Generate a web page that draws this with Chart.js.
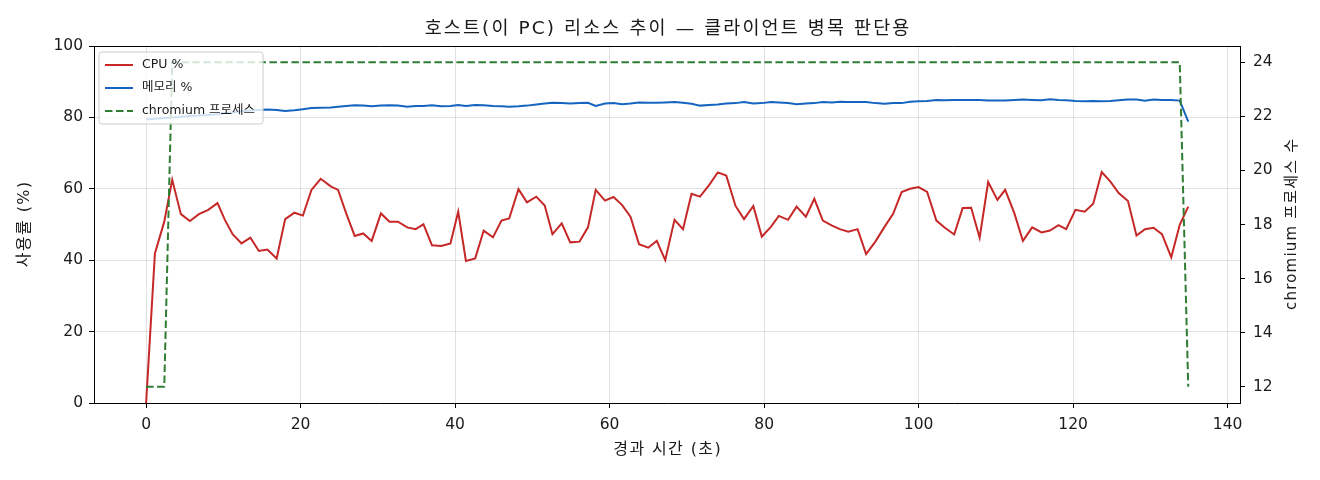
<!DOCTYPE html>
<html>
<head>
<meta charset="utf-8">
<script src="https://cdn.jsdelivr.net/npm/chart.js@4.4.1/dist/chart.umd.min.js"></script>
<style>
html,body{margin:0;padding:0;background:#fff;}
canvas{display:block;}
</style>
</head>
<body>
<canvas id="c" width="1320" height="480"></canvas>
<script>
const times = [
0, 1.14, 2.35, 3.38, 4.5, 5.67, 6.83, 8.04, 9.24, 10.2,
11.2, 12.35, 13.5, 14.6, 15.7, 16.9, 18.0, 19.2, 20.3, 21.4,
22.6, 23.9, 24.85, 25.9, 27.0, 28.1, 29.2, 30.4, 31.5, 32.6,
33.8, 34.9, 35.9, 37.0, 38.2, 39.4, 40.4, 41.4, 42.6, 43.7,
44.9, 46.0, 47.0, 48.2, 49.3, 50.5, 51.6, 52.6, 53.8, 54.9,
56.1, 57.2, 58.2, 59.4, 60.5, 61.6, 62.7, 63.8, 65.0, 66.1,
67.2, 68.4, 69.5, 70.6, 71.7, 72.9, 74.0, 75.1, 76.3, 77.4,
78.6, 79.7, 80.9, 81.9, 83.1, 84.2, 85.4, 86.5, 87.6, 88.8,
89.8, 90.9, 92.1, 93.2, 94.4, 95.6, 96.7, 97.8, 98.9, 100.0,
101.1, 102.3, 103.4, 104.6, 105.7, 106.8, 107.9, 109.0, 110.2, 111.2,
112.4, 113.5, 114.7, 115.9, 117.0, 118.1, 119.1, 120.3, 121.5, 122.6,
123.7, 124.8, 125.9, 127.1, 128.2, 129.3, 130.4, 131.5, 132.7, 133.8,
134.9
];
const cpuPct = [
0, 41.9, 50.8, 62.5, 52.9, 51.0, 52.9, 54.1, 56.0, 51.3,
47.3, 44.7, 46.3, 42.6, 43.0, 40.5, 51.5, 53.3, 52.5, 59.7,
62.8, 60.7, 59.7, 53.1, 46.8, 47.5, 45.4, 53.1, 50.8, 50.8,
49.2, 48.7, 50.1, 44.2, 44.0, 44.7, 53.6, 39.8, 40.5, 48.3,
46.4, 51.1, 51.7, 59.9, 56.2, 57.8, 55.3, 47.3, 50.3, 45.0,
45.2, 49.2, 59.7, 56.7, 57.7, 55.5, 52.2, 44.5, 43.5, 45.4,
40.0, 51.3, 48.7, 58.6, 57.8, 61.1, 64.6, 63.7, 55.2, 51.5,
55.2, 46.6, 49.4, 52.4, 51.3, 55.0, 52.2, 57.2, 51.1, 49.7,
48.7, 48.0, 48.7, 41.7, 45.2, 49.4, 53.0, 59.1, 60.0, 60.5,
59.1, 51.1, 49.1, 47.2, 54.6, 54.7, 46.3, 61.9, 56.9, 59.7,
53.1, 45.4, 49.2, 47.8, 48.3, 49.8, 48.7, 54.1, 53.6, 55.8,
64.7, 62.1, 58.8, 56.6, 46.9, 48.7, 49.1, 47.3, 40.8, 49.9,
55.0
];
const memPct = [
79.4, 79.6, 79.8, 80.0, 80.2, 80.4, 80.5, 80.7, 80.9, 81.2,
81.4, 81.7, 81.9, 82.1, 82.2, 82.1, 81.8, 82.0, 82.3, 82.6,
82.7, 82.8, 83.0, 83.2, 83.4, 83.3, 83.1, 83.3, 83.4, 83.3,
83.0, 83.2, 83.2, 83.4, 83.1, 83.2, 83.5, 83.2, 83.5, 83.4,
83.2, 83.1, 83.0, 83.1, 83.3, 83.6, 83.9, 84.1, 84.0, 83.9,
84.0, 84.1, 83.2, 83.9, 84.0, 83.7, 83.9, 84.2, 84.1, 84.1,
84.2, 84.3, 84.1, 83.8, 83.3, 83.5, 83.6, 83.9, 84.0, 84.3,
83.9, 84.0, 84.3, 84.2, 84.0, 83.7, 83.9, 84.0, 84.3, 84.2,
84.4, 84.3, 84.3, 84.3, 84.0, 83.8, 84.0, 84.0, 84.4, 84.5,
84.6, 84.9, 84.8, 84.9, 84.9, 84.9, 84.9, 84.7, 84.7, 84.7,
84.9, 85.0, 84.9, 84.8, 85.1, 84.9, 84.8, 84.6, 84.5, 84.6,
84.5, 84.6, 84.8, 85.0, 85.0, 84.7, 85.0, 84.9, 84.9, 84.7,
78.8
];
const chromiumProcs = [
12, 12, 12,
24, 24, 24, 24, 24, 24, 24, 24, 24, 24, 24, 24, 24,
24, 24, 24, 24, 24, 24, 24, 24, 24, 24, 24, 24, 24,
24, 24, 24, 24, 24, 24, 24, 24, 24, 24, 24, 24, 24,
24, 24, 24, 24, 24, 24, 24, 24, 24, 24, 24, 24, 24,
24, 24, 24, 24, 24, 24, 24, 24, 24, 24, 24, 24, 24,
24, 24, 24, 24, 24, 24, 24, 24, 24, 24, 24, 24, 24,
24, 24, 24, 24, 24, 24, 24, 24, 24, 24, 24, 24, 24,
24, 24, 24, 24, 24, 24, 24, 24, 24, 24, 24, 24, 24,
24, 24, 24, 24, 24, 24, 24, 24, 24, 24, 24, 24, 24,
12
];
const seriesLabels = ['CPU %', '메모리 %', 'chromium 프로세스'];
const xTickValues = [0, 20, 40, 60, 80, 100, 120, 140];
const yTickValues = [0, 20, 40, 60, 80, 100];
const y1TickValues = [12, 14, 16, 18, 20, 22, 24];
const titleText = '호스트(이 PC) 리소스 추이 — 클라이언트 병목 판단용';
const xTitle = '경과 시간 (초)';
const yTitle = '사용률 (%)';
const y1Title = 'chromium 프로세스 수';

const FONT = "'DejaVu Sans', 'Noto Sans CJK KR', sans-serif";
const TXT = '#1a1a1a';
const GRID = 'rgba(176,176,176,0.38)';

const pts = arr => arr.map((v, i) => ({x: times[i], y: v}));
const setTicks = vals => s => { s.ticks = vals.map(v => ({value: v})); };

function drawText(ctx, text, x, y, size, spacing, rot) {
  ctx.save();
  ctx.translate(x, y);
  if (rot) ctx.rotate(rot);
  ctx.font = size + 'px ' + FONT;
  ctx.letterSpacing = spacing + 'px';
  ctx.fillStyle = TXT;
  ctx.textAlign = 'center';
  ctx.textBaseline = 'middle';
  ctx.fillText(text, spacing / 2, 0);
  ctx.restore();
}

const frameLegendPlugin = {
  id: 'frameLegend',
  afterDraw(chart) {
    const ctx = chart.ctx, a = chart.chartArea;
    ctx.save();
    // top frame
    ctx.strokeStyle = '#000'; ctx.lineWidth = 1;
    ctx.beginPath(); ctx.moveTo(a.left, a.top + 0.5); ctx.lineTo(a.right, a.top + 0.5); ctx.stroke();
    // legend box
    const bx = a.left + 5, by = a.top + 6, bw = 164, bh = 72, r = 3;
    ctx.beginPath();
    ctx.moveTo(bx + r, by); ctx.lineTo(bx + bw - r, by); ctx.quadraticCurveTo(bx + bw, by, bx + bw, by + r);
    ctx.lineTo(bx + bw, by + bh - r); ctx.quadraticCurveTo(bx + bw, by + bh, bx + bw - r, by + bh);
    ctx.lineTo(bx + r, by + bh); ctx.quadraticCurveTo(bx, by + bh, bx, by + bh - r);
    ctx.lineTo(bx, by + r); ctx.quadraticCurveTo(bx, by, bx + r, by);
    ctx.closePath();
    ctx.fillStyle = 'rgba(255,255,255,0.8)'; ctx.fill();
    ctx.strokeStyle = '#cccccc'; ctx.lineWidth = 1; ctx.stroke();
    const rows = [by + 13, by + 36, by + 59];
    chart.data.datasets.forEach((ds, i) => {
      const y = rows[i];
      ctx.beginPath();
      ctx.setLineDash(ds.borderDash || []);
      ctx.strokeStyle = ds.borderColor; ctx.lineWidth = 2;
      ctx.moveTo(bx + 6, y); ctx.lineTo(bx + 34, y); ctx.stroke();
      ctx.setLineDash([]);
      ctx.fillStyle = TXT; ctx.font = '12.5px ' + FONT;
      ctx.textBaseline = 'middle'; ctx.textAlign = 'left';
      ctx.fillText(ds.label, bx + 43, y);
    });
    ctx.restore();
    const cx = (a.left + a.right) / 2, cy = (a.top + a.bottom) / 2;
    drawText(ctx, titleText, cx, 29, 18.5, 2.1, 0);
    drawText(ctx, xTitle, cx, 450, 16, 1.4, 0);
    drawText(ctx, yTitle, 25, cy, 16, 1.4, -Math.PI / 2);
    drawText(ctx, y1Title, 1292, cy, 15, 1.2, -Math.PI / 2);
  }
};

new Chart(document.getElementById('c'), {
  type: 'line',
  data: {
    datasets: [
      {label: seriesLabels[0], data: pts(cpuPct), borderColor: '#c62828', borderWidth: 2, pointRadius: 0, yAxisID: 'y', order: 2},
      {label: seriesLabels[1], data: pts(memPct), borderColor: '#1565c0', borderWidth: 2, pointRadius: 0, yAxisID: 'y', order: 1},
      {label: seriesLabels[2], data: pts(chromiumProcs), borderColor: '#2e7d32', borderWidth: 2, borderDash: [7.5, 3.5], pointRadius: 0, yAxisID: 'y1', order: 0}
    ]
  },
  options: {
    responsive: false,
    animation: false,
    devicePixelRatio: 1,
    layout: {padding: {top: 46, left: 0, right: 0, bottom: 0}},
    plugins: {
      legend: {display: false},
      tooltip: {enabled: false},
      title: {display: false}
    },
    elements: {line: {tension: 0}},
    scales: {
      x: {
        type: 'linear', min: -6.745, max: 141.6,
        afterBuildTicks: setTicks(xTickValues),
        afterFit: s => { s.height = 77; },
        grid: {color: GRID, lineWidth: 1, tickColor: '#000', tickLength: 5, tickWidth: 1},
        border: {color: '#000', width: 1},
        ticks: {color: TXT, font: {family: FONT, size: 15.5}, padding: 8, maxRotation: 0, autoSkip: false}
      },
      y: {
        type: 'linear', position: 'left', min: 0, max: 100,
        afterBuildTicks: setTicks(yTickValues),
        afterFit: s => { s.width = 94; },
        grid: {color: GRID, lineWidth: 1, tickColor: '#000', tickLength: 5, tickWidth: 1},
        border: {color: '#000', width: 1},
        ticks: {color: TXT, font: {family: FONT, size: 15.5}, padding: 6}
      },
      y1: {
        type: 'linear', position: 'right', min: 11.4, max: 24.6,
        afterBuildTicks: setTicks(y1TickValues),
        afterFit: s => { s.width = 80; },
        grid: {drawOnChartArea: false, tickColor: '#000', tickLength: 5, tickWidth: 1},
        border: {color: '#000', width: 1},
        ticks: {color: TXT, font: {family: FONT, size: 15.5}, padding: 8}
      }
    }
  },
  plugins: [frameLegendPlugin]
});
</script>
</body>
</html>
